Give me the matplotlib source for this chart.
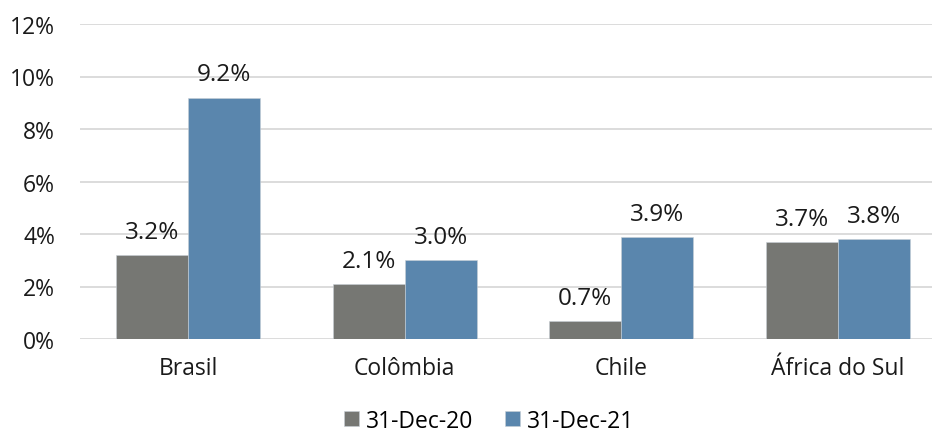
import numpy as np
import matplotlib
import matplotlib.pyplot as plt
from matplotlib.ticker import FuncFormatter

matplotlib.use("Agg")

# taxas por país (%)
paises = ["Brasil", "Colômbia", "Chile", "África do Sul"]
dez20 = [3.2, 2.1, 0.7, 3.7]
dez21 = [9.2, 3.0, 3.9, 3.8]
series = ["31-Dec-20", "31-Dec-21"]
cores = ["#767773", "#5a86ad"]

plt.rcParams["font.family"] = ["Open Sans", "DejaVu Sans"]

fig = plt.figure(figsize=(9.32, 4.39), dpi=100)
ax = fig.add_axes([80 / 932, 99 / 439, 866 / 932, 315 / 439])

x = np.arange(len(paises))
w = 0.333
for i, (vals, nome, cor) in enumerate(zip([dez20, dez21], series, cores)):
    pos = x + (i - 0.5) * w
    ax.bar(pos, vals, width=w, color=cor, label=nome,
           edgecolor="#c8cfd6", linewidth=0.4, zorder=3)
    for xp, v in zip(pos, vals):
        ax.annotate(f"{v:.1f}%", (xp, v), xytext=(0, 8), textcoords="offset points",
                    ha="center", va="bottom", fontsize=17.5, color="#1a1a1a")

ax.set_xlim(-0.5, len(paises) - 0.5)
ax.set_ylim(0, 12)
ax.set_yticks(range(0, 13, 2))
ax.yaxis.set_major_formatter(FuncFormatter(lambda v, _: f"{v:.0f}%"))
ax.set_xticks(x)
ax.set_xticklabels(paises)
ax.tick_params(axis="both", length=0, labelsize=16.5, colors="#1a1a1a")
ax.tick_params(axis="y", pad=18)
ax.tick_params(axis="x", pad=12)
ax.grid(axis="y", color="#d9d9d9", linewidth=1.3, zorder=0)
for s in ax.spines.values():
    s.set_visible(False)

fig.legend(loc="lower center", bbox_to_anchor=(0.525, -0.035), ncol=2, frameon=False,
           fontsize=16.5, handlelength=0.65, handleheight=0.65, handletextpad=0.3,
           columnspacing=1.4)

fig.savefig("out.png", dpi=100)
